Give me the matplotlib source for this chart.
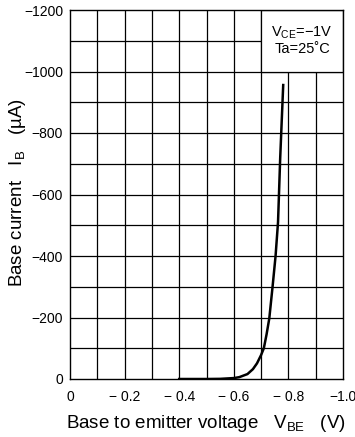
import matplotlib
matplotlib.use("Agg")
import matplotlib.pyplot as plt
from matplotlib.patches import Rectangle

plt.rcParams['font.family'] = ['Liberation Sans', 'DejaVu Sans']

# Data (V_BE in V, I_B in uA)
vbe = [-0.40, -0.50, -0.55, -0.60, -0.62, -0.65, -0.67, -0.685, -0.70, -0.71, -0.72, -0.73, -0.742, -0.753, -0.762, -0.770, -0.781]
ib = [0, 0, -0.5, -3, -6, -16, -32, -51, -78, -100, -145, -197, -300, -400, -510, -720, -956]

xticks = [0, -0.2, -0.4, -0.6, -0.8, -1.0]
xticklabels = ["0", "\u2212 0.2", "\u2212 0.4", "\u2212 0.6", "\u2212 0.8", "\u22121.0"]
yticks = [0, -200, -400, -600, -800, -1000, -1200]
yticklabels = ["0", "\u2212200", "\u2212400", "\u2212600", "\u2212800", "\u22121000", "\u22121200"]

fig = plt.figure(figsize=(3.55, 4.37), dpi=100)
ax = fig.add_axes([70/355, 1 - 379/437, 273/355, 369/437])

ax.set_xlim(0, -1.0)
ax.set_ylim(0, -1200)

# grid
for i in range(1, 10):
    ax.axvline(-0.1 * i, color='black', lw=0.9, zorder=1)
for j in range(1, 12):
    ax.axhline(-100 * j, color='black', lw=0.9, zorder=1)

# legend box
ax.add_patch(Rectangle((-0.7, -1000), -0.3, -200, facecolor='white',
                       edgecolor='black', lw=0.9, zorder=2))
ax.text(-0.85, -1127, "V$_{\\mathregular{CE}}$=\u22121V", ha='center', va='center',
        fontsize=10.5, zorder=3)
ax.text(-0.85, -1072, "Ta=25\u02daC", ha='center', va='center', fontsize=10.5, zorder=3)

ax.plot(vbe, ib, color='black', lw=1.8, zorder=4)

ax.set_xticks(xticks)
ax.set_xticklabels(xticklabels, fontsize=10)
ax.set_yticks(yticks)
ax.set_yticklabels(yticklabels, fontsize=10)
ax.tick_params(axis='x', length=0, pad=8)
ax.tick_params(axis='y', length=0, pad=5)
for s in ax.spines.values():
    s.set_linewidth(1.0)
    s.set_zorder(5)

fig.text(206/355, 1 - 423/437, "Base to emitter voltage   V$_{\\mathregular{BE}}$   (V)",
         fontsize=13.5, ha='center', va='center')
fig.text(18/355, 1 - 193/437, "Base current   I$_{\\mathregular{B}}$   (\u00b5A)",
         fontsize=13.5, ha='center', va='center', rotation=90)

fig.savefig("out.png", dpi=100)
